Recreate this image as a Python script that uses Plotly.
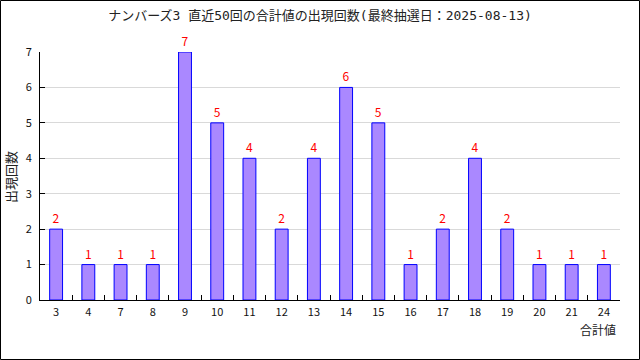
import plotly.graph_objects as go

categories = ["3", "4", "7", "8", "9", "10", "11", "12", "13", "14", "15", "16", "17", "18", "19", "20", "21", "24"]
counts = [2, 1, 1, 1, 7, 5, 4, 2, 4, 6, 5, 1, 2, 4, 2, 1, 1, 1]
y_ticks = [0, 1, 2, 3, 4, 5, 6, 7]

title_text = "ナンバーズ3 直近50回の合計値の出現回数(最終抽選日：2025-08-13)"
x_title = "合計値"
y_title = "出現回数"

FONT = "Noto Sans CJK JP"
TFONT = "DejaVu Sans Mono, Noto Sans CJK JP"

fig = go.Figure()
fig.add_trace(go.Bar(
    x=categories,
    y=counts,
    marker=dict(color="#aa88ff", line=dict(color="#0000ff", width=1)),
    text=[str(v) for v in counts],
    textposition="outside",
    textfont=dict(color="#ff0000", size=12, family=FONT),
    cliponaxis=False,
    hoverinfo="skip",
))

L, R, T, B = 40, 20, 52, 60
W, H = 640, 360
pw, ph = W - L - R, H - T - B

def px_x(x):
    return (x - L) / pw

def px_y(y):
    return (H - B - y) / ph

fig.update_layout(
    width=W, height=H,
    margin=dict(l=L, r=R, t=T, b=B, pad=0, autoexpand=False),
    paper_bgcolor="white",
    plot_bgcolor="white",
    showlegend=False,
    bargap=0.6,
    font=dict(family=FONT, size=11, color="#111111"),
    title=dict(text=title_text, x=0.5, xanchor="center", y=1 - 15 / H, yanchor="middle",
               font=dict(family=TFONT, size=13, color="#222222")),
    xaxis=dict(
        type="category",
        automargin=False,
        showline=True, linecolor="black", linewidth=1,
        ticks="inside", tickson="boundaries", ticklen=5, tickcolor="black",
        showgrid=False,
        ticklabelstandoff=2,
        tickfont=dict(size=11, family=FONT, color="#111111"),
        fixedrange=True,
    ),
    yaxis=dict(
        range=[0, 7],
        automargin=False,
        tickvals=y_ticks,
        showline=True, linecolor="black", linewidth=1,
        ticks="inside", ticklen=5, tickcolor="black",
        showgrid=True, gridcolor="#d9d9d9", gridwidth=1,
        zeroline=False,
        ticklabelstandoff=5,
        tickfont=dict(size=11, family=FONT, color="#111111"),
        fixedrange=True,
    ),
    annotations=[
        dict(text=x_title, xref="paper", yref="paper", x=px_x(598), y=px_y(329),
             xanchor="center", yanchor="middle", showarrow=False,
             font=dict(size=12, family=FONT, color="#222222")),
        dict(text=y_title, xref="paper", yref="paper", x=px_x(10), y=px_y(177),
             xanchor="center", yanchor="middle", showarrow=False, textangle=-90,
             font=dict(size=13, family=FONT, color="#222222")),
    ],
    shapes=[
        dict(type="rect", xref="paper", yref="paper",
             x0=px_x(0.5), x1=px_x(639.5), y0=px_y(359.5), y1=px_y(0.5),
             line=dict(color="black", width=1), fillcolor="rgba(0,0,0,0)", layer="above"),
    ],
)

fig.write_html("out.html", config={"displayModeBar": False},
               post_script="document.body.style.margin='0';document.body.style.overflow='hidden';")
